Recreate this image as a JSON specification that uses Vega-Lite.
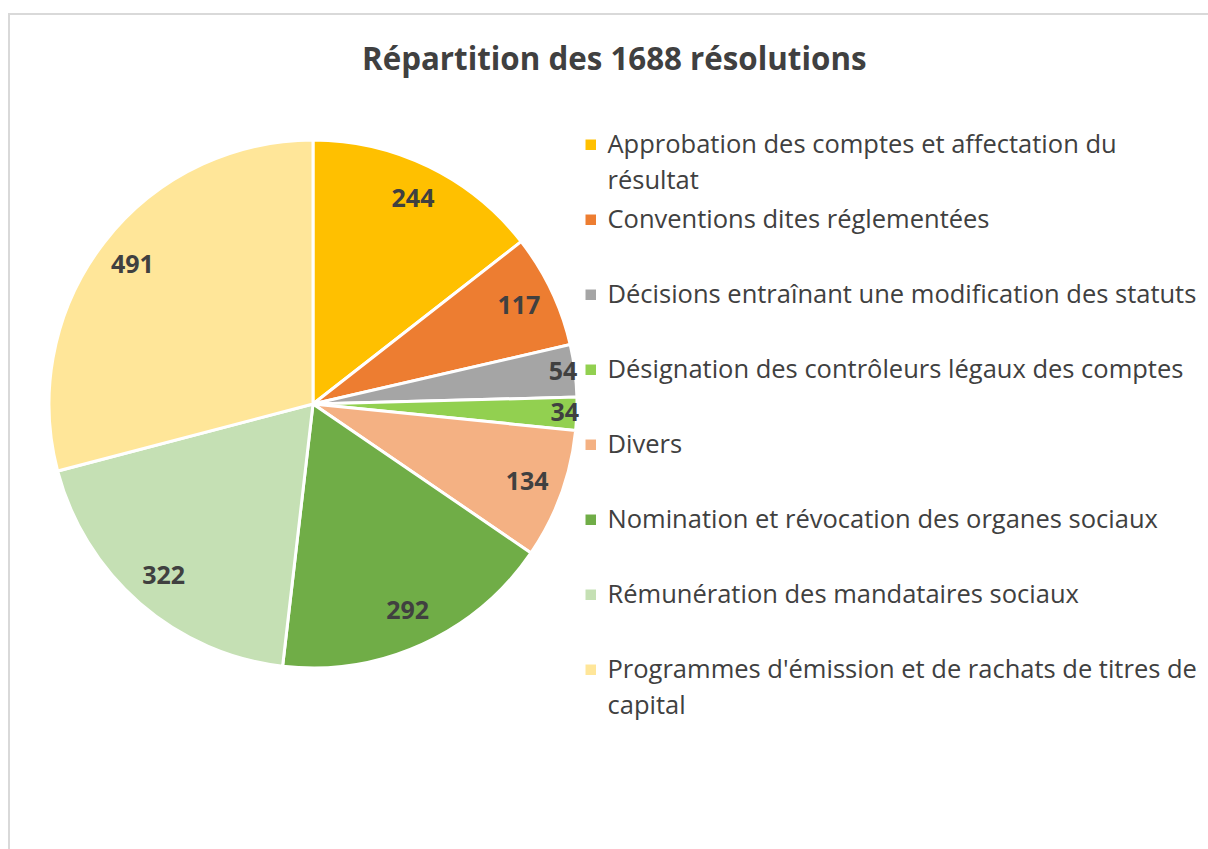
{
  "$schema": "https://vega.github.io/schema/vega-lite/v6.json",
  "width": 1200,
  "height": 840,
  "autosize": "none",
  "padding": {"left": 9, "top": 14, "right": 0, "bottom": 0},
  "background": "white",
  "view": {"stroke": "#D9D9D9", "strokeWidth": 2},
  "config": {
    "font": "Open Sans",
    "style": {"guide-label": {"lineHeight": 36}}
  },
  "title": {
    "text": "Répartition des 1688 résolutions",
    "font": "Open Sans",
    "fontSize": 31.3,
    "fontWeight": "bold",
    "color": "#404040",
    "anchor": "start",
    "frame": "group",
    "orient": "top",
    "offset": -87,
    "dx": 353,
    "baseline": "alphabetic"
  },
  "data": {
    "values": [
      {"cat": "Approbation des comptes et affectation du résultat", "n": 244, "order": 1},
      {"cat": "Conventions dites réglementées", "n": 117, "order": 2},
      {"cat": "Décisions entraînant une modification des statuts", "n": 54, "order": 3},
      {"cat": "Désignation des contrôleurs légaux des comptes", "n": 34, "order": 4},
      {"cat": "Divers", "n": 134, "order": 5},
      {"cat": "Nomination et révocation des organes sociaux", "n": 292, "order": 6},
      {"cat": "Rémunération des mandataires sociaux", "n": 322, "order": 7},
      {"cat": "Programmes d'émission et de rachats de titres de capital", "n": 491, "order": 8}
    ]
  },
  "encoding": {
    "theta": {"field": "n", "type": "quantitative", "stack": true},
    "order": {"field": "order", "type": "quantitative"},
    "color": {
      "field": "cat",
      "type": "nominal",
      "scale": {
        "domain": [
          "Approbation des comptes et affectation du résultat",
          "Conventions dites réglementées",
          "Décisions entraînant une modification des statuts",
          "Désignation des contrôleurs légaux des comptes",
          "Divers",
          "Nomination et révocation des organes sociaux",
          "Rémunération des mandataires sociaux",
          "Programmes d'émission et de rachats de titres de capital"
        ],
        "range": ["#FFC000", "#ED7D31", "#A5A5A5", "#92D050", "#F4B183", "#70AD47", "#C5E0B4", "#FFE699"]
      },
      "legend": {
        "orient": "none",
        "legendX": 569,
        "legendY": 118,
        "title": null,
        "symbolType": "square",
        "symbolSize": 110,
        "symbolStrokeWidth": 0,
        "symbolOpacity": 1,
        "labelFont": "Open Sans",
        "labelFontSize": 25.5,
        "labelColor": "#404040",
        "labelLimit": 700,
        "labelBaseline": "middle",
        "labelOffset": 4,
        "rowPadding": 12,
        "labelExpr": "datum.label == 'Approbation des comptes et affectation du résultat' ? ['Approbation des comptes et affectation du', 'résultat'] : datum.label == \"Programmes d'émission et de rachats de titres de capital\" ? [\"Programmes d'émission et de rachats de titres de\", 'capital'] : [datum.label, '']"
      }
    }
  },
  "layer": [
    {
      "mark": {"type": "arc", "x": 304, "y": 390, "outerRadius": 264, "stroke": "white", "strokeWidth": 3}
    },
    {
      "mark": {"type": "text", "x": 304, "y": 390, "font": "Open Sans", "fontSize": 25, "fontWeight": "bold"},
      "encoding": {
        "text": {"field": "n", "type": "quantitative"},
        "color": {"value": "#404040"},
        "radius": {"field": "n", "type": "quantitative", "scale": {"type": "linear", "zero": false, "domain": [0, 55, 60, 600], "range": [252, 252, 228, 228]}}
      }
    }
  ]
}
